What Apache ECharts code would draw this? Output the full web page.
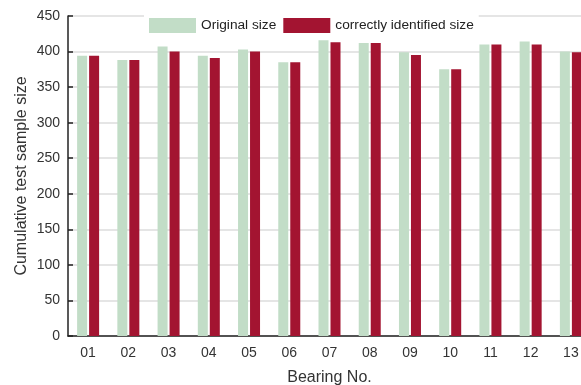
<!DOCTYPE html>
<html><head><meta charset="utf-8">
<script src="https://cdn.jsdelivr.net/npm/echarts@6/dist/echarts.min.js"></script>
<style>html,body{margin:0;padding:0;background:#fff}#c{width:581px;height:385px}</style>
</head><body><div id="c"></div>
<script>
const categories = ['01','02','03','04','05','06','07','08','09','10','11','12','13'];
const originalSize = [394, 388, 407, 394, 403, 385, 416, 412, 399, 375, 410, 414, 400];
const identifiedSize = [394, 388, 400, 391, 400, 385, 413, 412, 395, 375, 410, 410, 399];
const yTicks = {min: 0, max: 450, interval: 50};

const chart = echarts.init(document.getElementById('c'));
const font = 'Liberation Sans, Arial, sans-serif';
chart.setOption({
  animation: false,
  textStyle: {fontFamily: font},
  grid: {left: 68, top: 16, bottom: 49, right: -10, containLabel: false, outerBoundsMode: 'none'},
  legend: {
    left: 144, top: 13, padding: [5, 5], itemGap: 7,
    itemWidth: 47, itemHeight: 15, backgroundColor: '#fff',
    textStyle: {fontSize: 13.7, color: '#222', fontFamily: font},
    icon: 'rect',
    data: ['Original size', 'correctly identified size']
  },
  xAxis: {
    type: 'category', data: categories,
    name: 'Bearing No.', nameLocation: 'middle', nameGap: 34,
    nameTextStyle: {fontSize: 16, color: '#333', fontFamily: font},
    axisLine: {lineStyle: {color: '#222', width: 1.5}},
    axisTick: {alignWithLabel: true, inside: true, length: 5, lineStyle: {color: '#222', width: 1.5}},
    axisLabel: {fontSize: 14, color: '#333', margin: 10, fontFamily: font}
  },
  yAxis: {
    type: 'value', min: yTicks.min, max: yTicks.max, interval: yTicks.interval,
    name: 'Cumulative test sample size', nameLocation: 'middle', nameGap: 38,
    nameMoveOverlap: false,
    nameTextStyle: {fontSize: 16, color: '#333', fontFamily: font},
    axisLine: {show: true, lineStyle: {color: '#222', width: 1.5}},
    axisTick: {show: true, inside: true, length: 5, lineStyle: {color: '#222', width: 1.5}},
    axisLabel: {fontSize: 14, color: '#333', margin: 8, fontFamily: font},
    splitLine: {lineStyle: {color: '#dcdcdc', width: 1.5}}
  },
  series: [
    {name: 'Original size', type: 'bar', data: originalSize, barWidth: 10, barGap: '20%',
     itemStyle: {color: '#c2ddc7'}},
    {name: 'correctly identified size', type: 'bar', data: identifiedSize, barWidth: 10,
     itemStyle: {color: '#a31431'}}
  ]
});
</script></body></html>
